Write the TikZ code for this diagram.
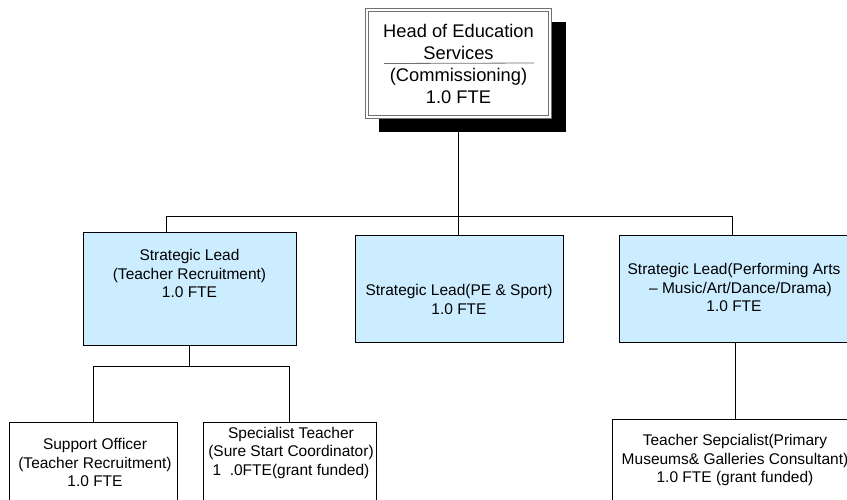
\documentclass[tikz,border=0pt]{standalone}
\usepackage{fontspec}
\setmainfont{Liberation Sans}
\definecolor{lblue}{HTML}{CCECFF}
\definecolor{bordgray}{HTML}{707070}
\begin{document}
\begin{tikzpicture}[x=1pt,y=-1pt,
  lead/.style={draw=black, line width=0.8pt, fill=lblue, rectangle, inner sep=0pt, minimum height=107pt},
  child/.style={draw=black, line width=0.8pt, fill=white, rectangle, inner sep=0pt, minimum height=110pt},
  txt/.style={align=center, inner sep=0pt, font=\fontsize{15.5}{18.5}\selectfont},
  toptxt/.style={align=center, inner sep=0pt, font=\fontsize{18.3}{21.5}\selectfont},
  conn/.style={draw=black, line width=0.8pt}
]
\useasboundingbox (0,0) rectangle (847,499);

% coordinates of buses
\coordinate (busL) at (166,216);
\coordinate (busR) at (732,216);
\coordinate (busM) at (458.5,216);
\coordinate (cbusL) at (93,366);
\coordinate (cbusR) at (289.5,366);

% top box
\node[fill=black, inner sep=0pt, minimum width=187pt, minimum height=110pt] (headshadow) at (472.5,77) {};
\draw[conn] (458.5,119) -- (busM);
\node[draw=bordgray, line width=0.7pt, double=white, double distance=2.6pt, fill=white, inner sep=0pt,
      minimum width=183pt, minimum height=107pt] (head) at (458.5,63.5) {};
\draw[bordgray, line width=0.8pt] (head.west -| 384,0) ++(0,0) -- (534,63);
\node[toptxt] (headt1) at (458.5,42) {Head of Education\\Services};
\node[toptxt] (headt2) at (458.5,86) {(Commissioning)\\1.0 FTE};

% strategic leads
\node[lead, minimum width=213pt, minimum height=113pt] (sl1) at (189.5,288.5) {};
\node[lead, minimum width=208pt] (sl2) at (459,288.5) {};
\node[lead, minimum width=232pt] (sl3) at (735,288.5) {};

\node[txt] (sl1t) at (189.5,273.5) {Strategic Lead\\(Teacher Recruitment)\\1.0 FTE};
\node[txt] (sl2t) at (459,299.5) {Strategic Lead(PE \& Sport)\\1.0 FTE};
\node[txt] (sl3t) at (734,287.5) {Strategic Lead(Performing Arts\\\ \ \ – Music/Art/Dance/Drama)\\1.0 FTE};

% bus connectors
\draw[conn] (busL) -- (busR);
\draw[conn] (busL) -- (busL |- sl1.north);
\draw[conn] (busM) -- (busM |- sl2.north);
\draw[conn] (busR) -- (busR |- sl3.north);

% children
\node[child, minimum width=168pt, anchor=north] (c1) at (93,422) {};
\node[child, minimum width=173pt, anchor=north] (c2) at (289.5,422) {};
\node[child, minimum width=246pt, anchor=north] (c3) at (735,419) {};

\node[txt] (c1t) at (95,462.5) {Support Officer\\(Teacher Recruitment)\\1.0 FTE};
\node[txt] (c2t) at (291,452.5) {Specialist Teacher\\(Sure Start Coordinator)\\1\ \ .0FTE(grant funded)};
\node[txt] (c3t) at (735,460) {Teacher Sepcialist(Primary\\Museums\& Galleries Consultant)\\1.0 FTE (grant funded)};

\draw[conn] (sl1.south) -- (sl1.south |- cbusL);
\draw[conn] (cbusL) -- (cbusR);
\draw[conn] (cbusL) -- (c1.north);
\draw[conn] (cbusR) -- (c2.north);
\draw[conn] (sl3.south) -- (c3.north);
\end{tikzpicture}
\end{document}
